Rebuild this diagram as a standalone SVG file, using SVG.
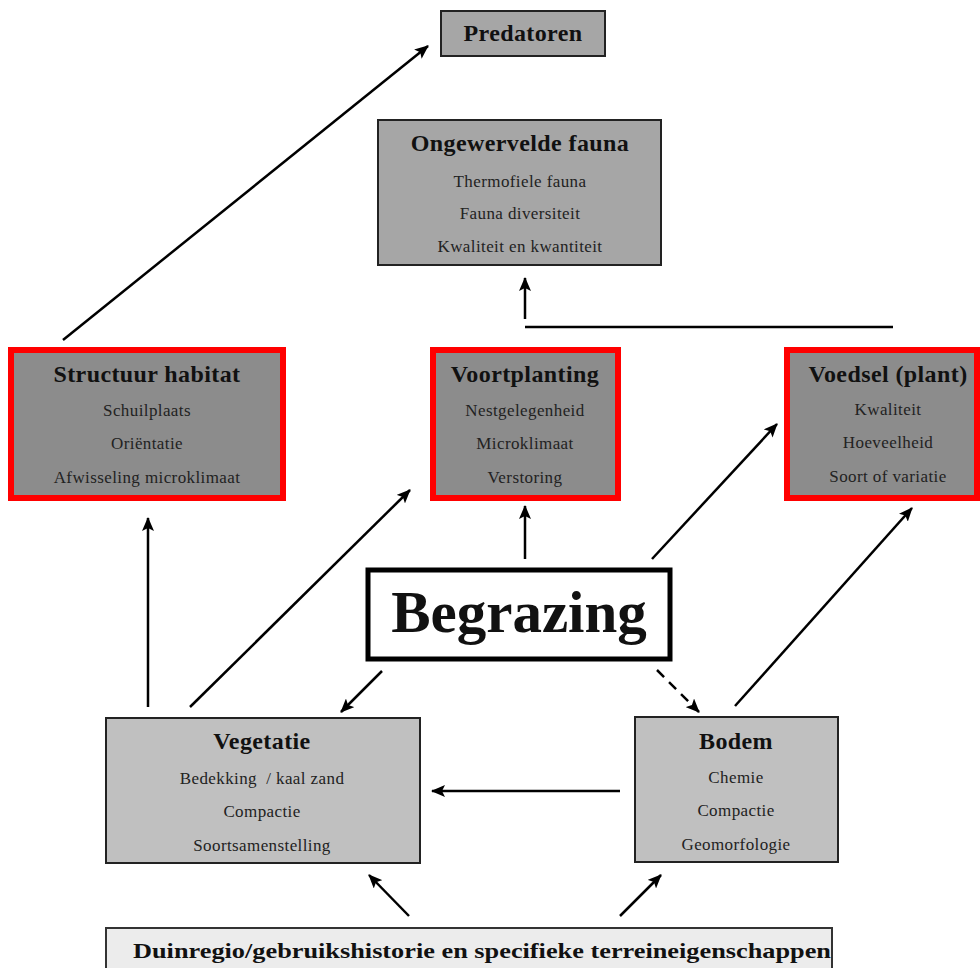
<svg xmlns="http://www.w3.org/2000/svg" width="980" height="968" viewBox="0 0 980 968">
<style>
.t{font-family:"Liberation Serif","Times New Roman",serif;fill:#111;text-anchor:middle}
.h{font-weight:bold;font-size:24px;letter-spacing:0.4px}
.i{font-size:17px;fill:#222;letter-spacing:0.4px}
.c{stroke:#000;stroke-width:2.5;fill:none;marker-end:url(#ah)}
.red{stroke:#f00;stroke-width:6;fill:#8c8c8c}
.dk{stroke:#222;stroke-width:2;fill:#a6a6a6}
.lt{stroke:#222;stroke-width:2;fill:#c0c0c0}
</style>
<defs>
<marker id="ah" markerUnits="userSpaceOnUse" markerWidth="14" markerHeight="12" refX="13" refY="6" orient="auto">
<path d="M0,0 L14,6 L0,12 L3,6 z" fill="#000"/>
</marker>
</defs>
<rect width="980" height="968" fill="#fff"/>
<g id="connectors">
<line class="c" x1="63" y1="340" x2="428" y2="46"/>
<line class="c" x1="525" y1="319" x2="525" y2="278"/>
<line x1="525" y1="327" x2="893" y2="327" stroke="#000" stroke-width="2.5"/>
<line class="c" x1="148" y1="707" x2="148" y2="518"/>
<line class="c" x1="190" y1="707" x2="410" y2="490"/>
<line class="c" x1="525" y1="559" x2="525" y2="506"/>
<line class="c" x1="652" y1="559" x2="777" y2="424"/>
<line class="c" x1="735" y1="706" x2="912" y2="508"/>
<line class="c" x1="382" y1="671" x2="341" y2="712"/>
<line class="c" x1="657" y1="670" x2="699" y2="712" stroke-dasharray="10,7"/>
<line class="c" x1="620" y1="791" x2="432" y2="791"/>
<line class="c" x1="409" y1="916" x2="369" y2="875"/>
<line class="c" x1="620" y1="916" x2="661" y2="875"/>
</g>
<g id="predatoren">
<rect class="dk" x="441" y="11" width="164" height="45"/>
<text class="t h" x="523" y="41">Predatoren</text>
</g>
<g id="ongewervelde">
<rect class="dk" x="378" y="120" width="283" height="145"/>
<text class="t h" x="520" y="151">Ongewervelde fauna</text>
<text class="t i" x="520" y="187">Thermofiele fauna</text>
<text class="t i" x="520" y="219">Fauna diversiteit</text>
<text class="t i" x="520" y="252">Kwaliteit en kwantiteit</text>
</g>
<g id="structuur">
<rect class="red" x="11" y="350" width="272" height="148"/>
<text class="t h" x="147" y="382">Structuur habitat</text>
<text class="t i" x="147" y="416">Schuilplaats</text>
<text class="t i" x="147" y="449">Oriëntatie</text>
<text class="t i" x="147" y="483">Afwisseling microklimaat</text>
</g>
<g id="voortplanting">
<rect class="red" x="433" y="350" width="185" height="148"/>
<text class="t h" x="525" y="382">Voortplanting</text>
<text class="t i" x="525" y="416">Nestgelegenheid</text>
<text class="t i" x="525" y="449">Microklimaat</text>
<text class="t i" x="525" y="483">Verstoring</text>
</g>
<g id="voedsel">
<rect class="red" x="787" y="350" width="190" height="148"/>
<text class="t h" x="888" y="382">Voedsel (plant)</text>
<text class="t i" x="888" y="415">Kwaliteit</text>
<text class="t i" x="888" y="448">Hoeveelheid</text>
<text class="t i" x="888" y="482">Soort of variatie</text>
</g>
<g id="begrazing">
<rect x="368" y="570" width="302" height="89" fill="#fff" stroke="#000" stroke-width="5"/>
<text class="t" x="519" y="632" font-size="59" font-weight="bold">Begrazing</text>
</g>
<g id="vegetatie">
<rect class="lt" x="106" y="718" width="314" height="145"/>
<text class="t h" x="262" y="749">Vegetatie</text>
<text class="t i" x="262" y="784" style="white-space:pre">Bedekking  / kaal zand</text>
<text class="t i" x="262" y="817">Compactie</text>
<text class="t i" x="262" y="851">Soortsamenstelling</text>
</g>
<g id="bodem">
<rect class="lt" x="635" y="717" width="203" height="145"/>
<text class="t h" x="736" y="749">Bodem</text>
<text class="t i" x="736" y="783">Chemie</text>
<text class="t i" x="736" y="816">Compactie</text>
<text class="t i" x="736" y="850">Geomorfologie</text>
</g>
<g id="duinregio">
<rect x="106" y="928" width="726" height="48" fill="#ececec" stroke="#333" stroke-width="2"/>
<text class="t" x="482" y="958" font-size="21" font-weight="bold" textLength="698" lengthAdjust="spacingAndGlyphs">Duinregio/gebruikshistorie en specifieke terreineigenschappen</text>
</g>
</svg>
